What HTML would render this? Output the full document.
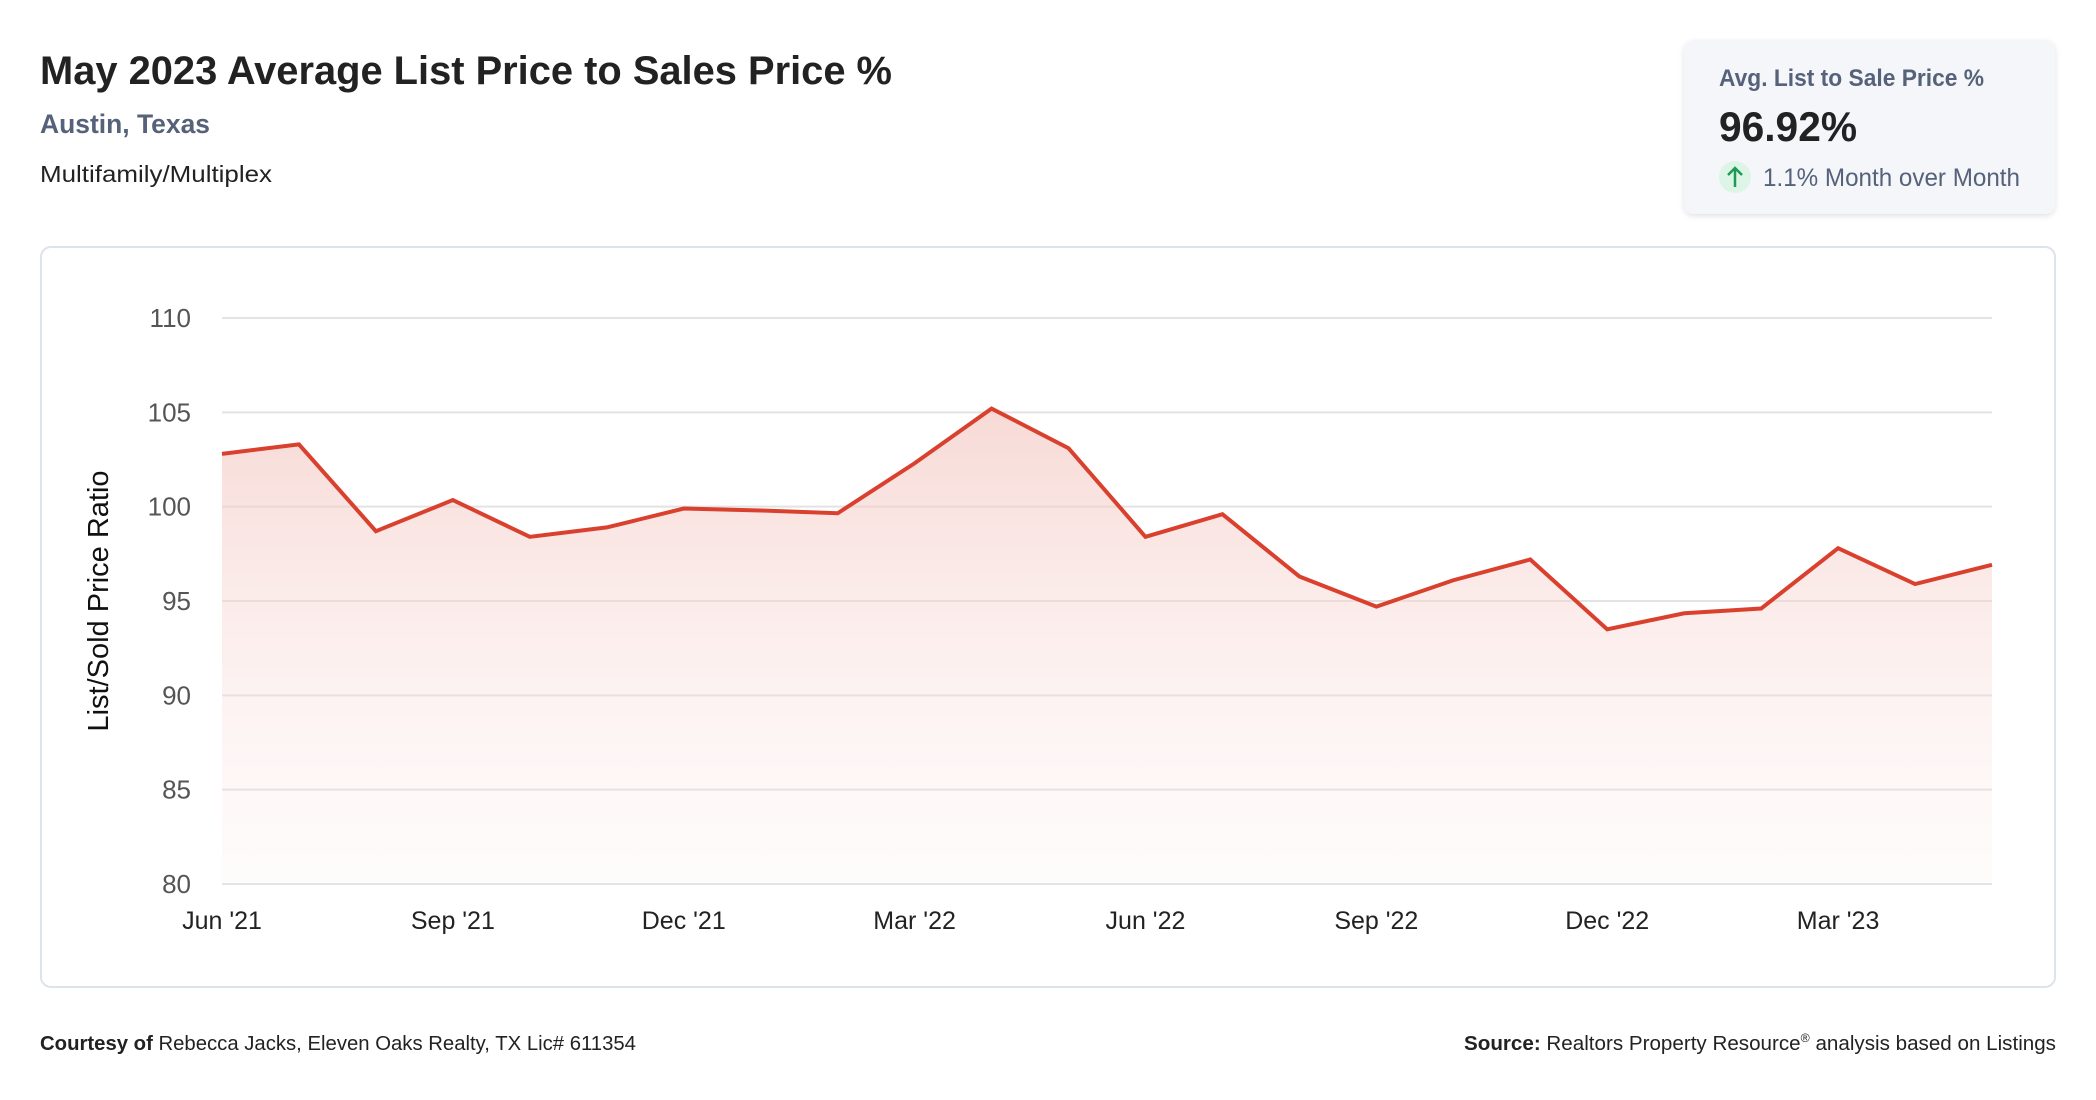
<!DOCTYPE html>
<html><head><meta charset="utf-8"><style>
html,body{margin:0;padding:0;background:#fff;}
svg{display:block;font-family:"Liberation Sans",sans-serif;}
</style></head><body>
<svg id="page" width="2096" height="1100" viewBox="0 0 2096 1100">
<defs>
<linearGradient id="fillGrad" x1="0" y1="0" x2="0" y2="1">
<stop offset="0" stop-color="#f3c6c0" stop-opacity="0.65"/>
<stop offset="1" stop-color="#fbe9e7" stop-opacity="0.15"/>
</linearGradient>
<filter id="shadow" x="-10%" y="-10%" width="120%" height="130%"><feDropShadow dx="0" dy="2" stdDeviation="3" flood-color="#000" flood-opacity="0.12"/></filter>
</defs>
<text x="40" y="84" font-size="40" font-weight="bold" fill="#222" textLength="852" lengthAdjust="spacingAndGlyphs">May 2023 Average List Price to Sales Price %</text>
<text x="40" y="133" font-size="27" font-weight="bold" fill="#56627a" textLength="170" lengthAdjust="spacingAndGlyphs">Austin, Texas</text>
<text x="40" y="182" font-size="23" fill="#222" textLength="232" lengthAdjust="spacingAndGlyphs">Multifamily/Multiplex</text>

<g>
<rect x="1684" y="40" width="371" height="174" rx="10" fill="#f4f6f9" filter="url(#shadow)"/>
<text x="1719" y="86" font-size="24" font-weight="bold" fill="#56627a" textLength="265" lengthAdjust="spacingAndGlyphs">Avg. List to Sale Price %</text>
<text x="1719" y="141" font-size="42" font-weight="bold" fill="#222" textLength="138" lengthAdjust="spacingAndGlyphs">96.92%</text>
<circle cx="1735" cy="177" r="16" fill="#dcf5e6"/>
<path d="M1735 187 V168 M1728 175 L1735 168 L1742 175" stroke="#1f9a55" stroke-width="2.5" fill="none"/>
<text x="1763" y="186" font-size="25" fill="#56627a" textLength="257" lengthAdjust="spacingAndGlyphs">1.1% Month over Month</text>
</g>

<rect x="41" y="247" width="2014" height="740" rx="10" fill="#fff" stroke="#dde3ea" stroke-width="2"/>
<g id="chart"></g>

<text x="40" y="1050" font-size="20" fill="#222" textLength="596" lengthAdjust="spacingAndGlyphs"><tspan font-weight="bold">Courtesy of</tspan> Rebecca Jacks, Eleven Oaks Realty, TX Lic# 611354</text>
<text x="1464" y="1050" font-size="20" fill="#222" textLength="592" lengthAdjust="spacingAndGlyphs"><tspan font-weight="bold">Source:</tspan> Realtors Property Resource<tspan font-size="12" dy="-8">®</tspan><tspan dy="8"> analysis based on Listings</tspan></text>
</svg>
<script>
const months = ["Jun '21","Jul '21","Aug '21","Sep '21","Oct '21","Nov '21","Dec '21","Jan '22","Feb '22","Mar '22","Apr '22","May '22","Jun '22","Jul '22","Aug '22","Sep '22","Oct '22","Nov '22","Dec '22","Jan '23","Feb '23","Mar '23","Apr '23","May '23"];
const ratioValues = [102.8,103.3,98.7,100.35,98.4,98.9,99.9,99.8,99.65,102.3,105.2,103.1,98.4,99.6,96.3,94.7,96.1,97.2,93.5,94.35,94.6,97.8,95.9,96.92];
const yTicks = [80,85,90,95,100,105,110];
const xTickLabels = ["Jun '21","Sep '21","Dec '21","Mar '22","Jun '22","Sep '22","Dec '22","Mar '23"];

const NS = "http://www.w3.org/2000/svg";
const chartG = document.getElementById('chart');
const plotLeft = 222, plotRight = 1992, plotTop = 318, plotBottom = 884, yMin = 80, yMax = 110;
function xScale(i){ return plotLeft + i*(plotRight-plotLeft)/(months.length-1); }
function yScale(v){ return plotBottom - (v-yMin)/(yMax-yMin)*(plotBottom-plotTop); }
function mk(tag, attrs){ const e = document.createElementNS(NS, tag); for (const k in attrs) e.setAttribute(k, attrs[k]); chartG.appendChild(e); return e; }

yTicks.forEach(t => {
  const l = mk('line', {x1:plotLeft, x2:plotRight, y1:yScale(t), y2:yScale(t), stroke:'#e3e3e3', 'stroke-width':2});
  
  
  const tx = mk('text', {x:191, y:yScale(t)+9, 'text-anchor':'end', 'font-size':26, fill:'#555'});
  tx.textContent = t;
  
  
});

const pts = ratioValues.map((v,i) => xScale(i) + ',' + yScale(v));
const area = mk('polygon', {points: xScale(0)+','+plotBottom+' '+pts.join(' ')+' '+xScale(ratioValues.length-1)+','+plotBottom, fill:'url(#fillGrad)'});


const line = mk('polyline', {points: pts.join(' '), fill:'none', stroke:'#d9412e', 'stroke-width':4, 'stroke-linejoin':'miter'});



xTickLabels.forEach(lbl => {
  const i = months.indexOf(lbl);
  const tx = mk('text', {x:xScale(i), y:929, 'text-anchor':'middle', 'font-size':25, fill:'#222'});
  tx.textContent = lbl;
  
  
});

const yt = mk('text', {x:0, y:0, 'text-anchor':'middle', 'font-size':29, fill:'#111', transform:'translate(108,601) rotate(-90)'});
yt.textContent = 'List/Sold Price Ratio';


</script>
</body></html>
